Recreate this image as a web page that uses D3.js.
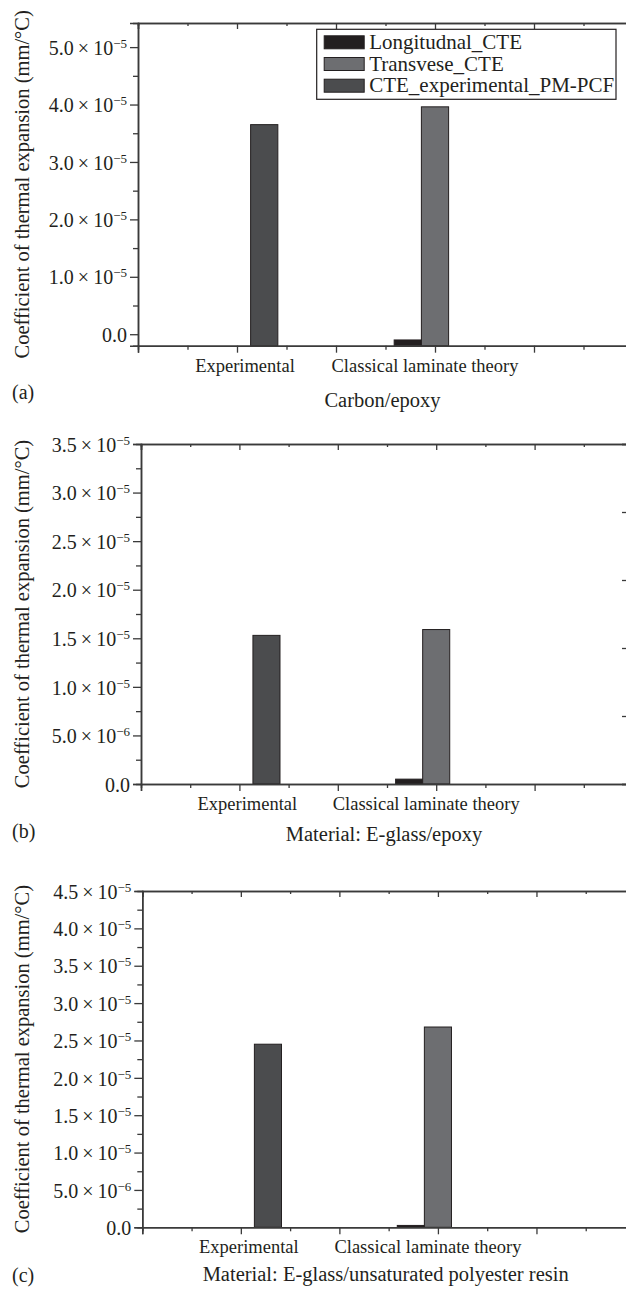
<!DOCTYPE html>
<html>
<head>
<meta charset="utf-8">
<script src="https://cdn.jsdelivr.net/npm/d3@7"></script>
<style>
    body { margin: 0; background: #fff; }
    #chart { width: 626px; height: 1289px; }
    text { font-family: "Liberation Serif", "DejaVu Serif", serif; fill: #231f20; }
</style>
</head>
<body>
<div id="chart"></div>
<script>

// data
const categories = ["Experimental", "Classical laminate theory"];
const categoryPos = [2, 6];
const seriesNames = ["Longitudnal_CTE", "Transvese_CTE", "CTE_experimental_PM-PCF"];
const seriesColors = ["#231f20", "#6d6e71", "#4b4c4e"];

// rows = categories, columns = series
const carbonEpoxy = [[null, null, 3.65e-5], [-1.0e-6, 3.96e-5, null]];
const eglassEpoxy = [[null, null, 1.53e-5], [5.0e-7, 1.59e-5, null]];
const eglassPolyester = [[null, null, 2.45e-5], [2.5e-7, 2.68e-5, null]];

const materialTitles = ["Carbon/epoxy", "Material: E-glass/epoxy", "Material: E-glass/unsaturated polyester resin"];
const panelLetters = ["(a)", "(b)", "(c)"];

const yDomainA = [-2e-6, 5.42e-5];
const yDomainB = [0, 3.5e-5];
const yDomainC = [0, 4.5e-5];
const yTicksA = [0, 1e-5, 2e-5, 3e-5, 4e-5, 5e-5];
const yTicksB = [0, 5e-6, 1e-5, 1.5e-5, 2e-5, 2.5e-5, 3e-5, 3.5e-5];
const yTicksC = [0, 5e-6, 1e-5, 1.5e-5, 2e-5, 2.5e-5, 3e-5, 3.5e-5, 4e-5, 4.5e-5];

const xDomain = [0, 10];
const xTicksMajor = [0, 2, 4, 6, 8, 10];
const xTicksMinor = [1, 3, 5, 7, 9];
const rightTicksB = [0, 1, 2, 3, 4, 5];

const yTitle = "Coefficient of thermal expansion (mm/\u00B0C)";

const panels = [
    { values: carbonEpoxy, yDomain: yDomainA, yTicks: yTicksA, left: 138, right: 633, top: 23, bottom: 345.7, titleDy: 61, letterY: 399 },
    { values: eglassEpoxy, yDomain: yDomainB, yTicks: yTicksB, left: 141, right: 633, top: 444, bottom: 784, titleDy: 57, letterY: 838, rightTicks: rightTicksB },
    { values: eglassPolyester, yDomain: yDomainC, yTicks: yTicksC, left: 142.3, right: 635, top: 891, bottom: 1227.3, titleDy: 54, letterY: 1282 }
];

const width = 626, height = 1289;
const svg = d3.select("#chart")
    .append("svg")
    .attr("width", width)
    .attr("height", height);

const axisColor = "#3a3a3a";
const barWidth = 0.55; // in x units

function tickParts(v) {
    if (v === 0) return ["0.0", null];
    const e = Math.floor(Math.log10(v) + 1e-9);
    const m = v / Math.pow(10, e);
    return [m.toFixed(1) + "\u2009\u00D7\u2009" + "10", "\u2212" + Math.abs(e)];
}

function styleAxis(g) {
    g.select(".domain").attr("stroke", axisColor).attr("stroke-width", 1.5);
    g.selectAll(".tick line").attr("stroke", axisColor).attr("stroke-width", 1.3);
}

panels.forEach(function (p, i) {

    const x = d3.scaleLinear().domain(xDomain).range([p.left, p.right]);
    const y = d3.scaleLinear().domain(p.yDomain).range([p.bottom, p.top]);
    const g = svg.append("g");

    // bars, drawn up from the bottom of the axis
    const bars = [];
    p.values.forEach(function (row, ci) {
        row.forEach(function (v, si) {
            if (v !== null) bars.push({ cat: ci, s: si, v: v });
        });
    });

    g.selectAll("rect.bar")
        .data(bars)
        .enter()
        .append("rect")
        .attr("class", "bar")
        .attr("x", d => x(categoryPos[d.cat] + (d.s - 1.5) * barWidth))
        .attr("width", d => x(barWidth) - x(0))
        .attr("y", d => y(d.v))
        .attr("height", d => y(p.yDomain[0]) - y(d.v))
        .attr("fill", d => seriesColors[d.s])
        .attr("stroke", "#231f20")
        .attr("stroke-width", 1);

    // bottom axis
    g.append("g")
        .attr("transform", "translate(0," + p.bottom + ")")
        .call(d3.axisBottom(x).tickValues(xTicksMajor).tickSize(7).tickFormat(""))
        .call(styleAxis);
    g.append("g")
        .attr("transform", "translate(0," + p.bottom + ")")
        .call(d3.axisBottom(x).tickValues(xTicksMinor).tickSize(4).tickFormat(""))
        .call(styleAxis);

    // top frame with inward ticks
    g.append("g")
        .attr("transform", "translate(0," + p.top + ")")
        .call(d3.axisBottom(x).tickValues(xTicksMajor).tickSize(6).tickFormat(""))
        .call(styleAxis);
    g.append("g")
        .attr("transform", "translate(0," + p.top + ")")
        .call(d3.axisBottom(x).tickValues(xTicksMinor).tickSize(3).tickFormat(""))
        .call(styleAxis);

    // left axis
    const minor = d3.pairs(p.yTicks).map(d => (d[0] + d[1]) / 2);
    g.append("g")
        .attr("transform", "translate(" + p.left + ",0)")
        .call(d3.axisLeft(y).tickValues(minor).tickSize(5).tickFormat(""))
        .call(styleAxis);

    const yAxis = g.append("g")
        .attr("transform", "translate(" + p.left + ",0)")
        .call(d3.axisLeft(y).tickValues(p.yTicks).tickSize(8).tickPadding(3))
        .call(styleAxis);

    yAxis.selectAll(".tick text")
        .attr("font-family", null)
        .attr("font-size", null)
        .attr("dy", "0.36em")
        .style("font-size", "20px")
        .each(function (d) {
            const t = d3.select(this);
            const parts = tickParts(d);
            t.text(null);
            t.append("tspan").text(parts[0]);
            if (parts[1]) {
                t.append("tspan")
                    .attr("dy", -7)
                    .style("font-size", "13px")
                    .text(parts[1]);
            }
        });

    // right axis ticks (only visible in panel b)
    if (p.rightTicks) {
        const yr = d3.scaleLinear().domain([0, 5]).range([p.bottom, p.top]);
        g.append("g")
            .attr("transform", "translate(" + (p.right - 1) + ",0)")
            .call(d3.axisLeft(yr).tickValues(p.rightTicks).tickSize(10).tickFormat(""))
            .call(styleAxis);
    }

    // category labels
    const labelShift = [8, -10];
    g.selectAll("text.cat")
        .data(categories)
        .enter()
        .append("text")
        .attr("class", "cat")
        .attr("x", (d, ci) => x(categoryPos[ci]) + labelShift[ci])
        .attr("y", p.bottom + 26)
        .attr("text-anchor", "middle")
        .style("font-size", "18.5px")
        .text(d => d);

    // material title
    g.append("text")
        .attr("x", (p.left + p.right) / 2 - 3)
        .attr("y", p.bottom + p.titleDy)
        .attr("text-anchor", "middle")
        .style("font-size", "20.5px")
        .text(materialTitles[i]);

    // panel letter
    g.append("text")
        .attr("x", 12)
        .attr("y", p.letterY)
        .style("font-size", "20px")
        .text(panelLetters[i]);

    // y title
    g.append("text")
        .attr("transform", "translate(29," + ((p.top + p.bottom) / 2) + ") rotate(-90)")
        .attr("text-anchor", "middle")
        .style("font-size", "20.5px")
        .text(yTitle);
});

// legend in panel a
const legend = svg.append("g").attr("transform", "translate(316.7,29.3)");
legend.append("rect")
    .attr("width", 299.3)
    .attr("height", 70)
    .attr("fill", "#fff")
    .attr("stroke", "#231f20")
    .attr("stroke-width", 1.2);

const legendRow = legend.selectAll("g.row")
    .data(seriesNames)
    .enter()
    .append("g")
    .attr("class", "row")
    .attr("transform", (d, i) => "translate(0," + (i * 21.7) + ")");

legendRow.append("rect")
    .attr("x", 7.5)
    .attr("y", 6.5)
    .attr("width", 40)
    .attr("height", 13)
    .attr("fill", (d, i) => seriesColors[i])
    .attr("stroke", "#231f20")
    .attr("stroke-width", 1);

legendRow.append("text")
    .attr("x", 52.5)
    .attr("y", 19.8)
    .style("font-size", "21px")
    .text(d => d);

</script>
</body>
</html>
